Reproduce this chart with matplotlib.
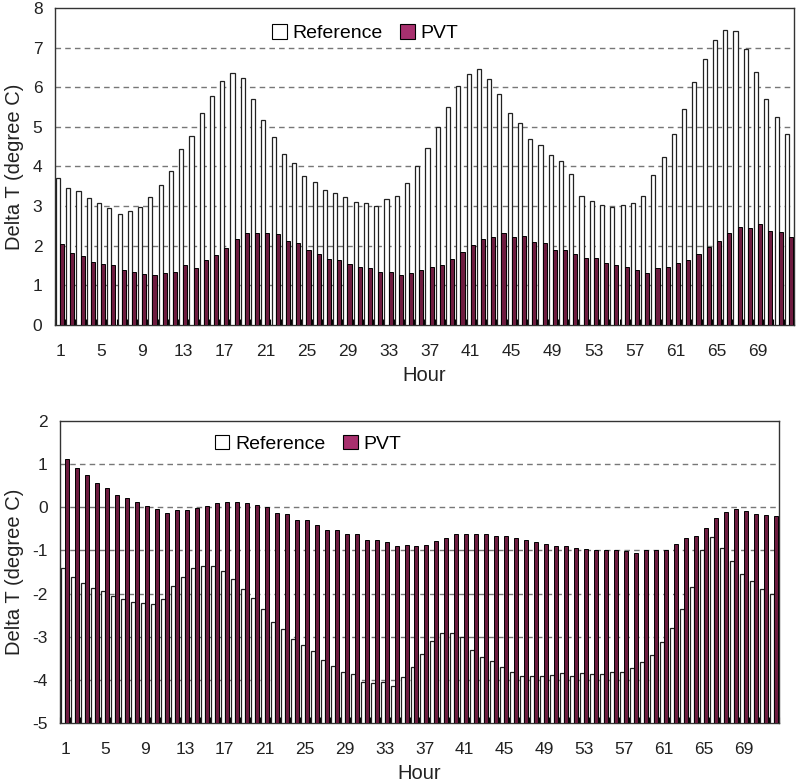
import numpy as np
import matplotlib
matplotlib.use("Agg")
import matplotlib.pyplot as plt
from matplotlib.patches import Patch

plt.rcParams['font.family'] = ['Liberation Sans', 'DejaVu Sans']

hours = np.arange(1, 73)

top_reference = [3.72, 3.45, 3.37, 3.20, 3.08, 2.94, 2.81, 2.88, 2.99, 3.24, 3.53, 3.88,
                 4.44, 4.77, 5.35, 5.79, 6.17, 6.37, 6.24, 5.71, 5.17, 4.74, 4.31, 4.09,
                 3.75, 3.62, 3.40, 3.33, 3.24, 3.10, 3.07, 3.00, 3.17, 3.25, 3.59, 4.02,
                 4.47, 5.00, 5.51, 6.03, 6.33, 6.46, 6.20, 5.83, 5.35, 5.09, 4.70, 4.53,
                 4.28, 4.14, 3.82, 3.25, 3.13, 3.04, 2.97, 3.03, 3.09, 3.25, 3.79, 4.25,
                 4.83, 5.45, 6.13, 6.71, 7.18, 7.45, 7.41, 6.97, 6.39, 5.70, 5.25, 4.83]
top_pvt = [2.04, 1.81, 1.74, 1.60, 1.54, 1.51, 1.39, 1.34, 1.28, 1.26, 1.30, 1.34,
           1.51, 1.44, 1.63, 1.76, 1.94, 2.17, 2.32, 2.32, 2.32, 2.29, 2.13, 2.06,
           1.90, 1.79, 1.67, 1.63, 1.54, 1.47, 1.44, 1.34, 1.34, 1.26, 1.31, 1.38,
           1.47, 1.51, 1.67, 1.83, 2.02, 2.17, 2.22, 2.32, 2.22, 2.25, 2.09, 2.06,
           1.89, 1.89, 1.79, 1.70, 1.70, 1.57, 1.51, 1.47, 1.38, 1.31, 1.44, 1.47,
           1.57, 1.63, 1.79, 1.97, 2.13, 2.32, 2.48, 2.44, 2.54, 2.38, 2.35, 2.22]

bottom_reference = [-1.41, -1.62, -1.76, -1.86, -1.95, -2.05, -2.13, -2.19, -2.22, -2.24, -2.13, -1.82,
                    -1.62, -1.41, -1.35, -1.35, -1.47, -1.66, -1.89, -2.10, -2.35, -2.65, -2.82, -3.05,
                    -3.19, -3.33, -3.54, -3.67, -3.81, -3.87, -4.06, -4.08, -4.06, -4.15, -3.93, -3.70,
                    -3.40, -3.09, -2.92, -2.92, -3.00, -3.30, -3.46, -3.57, -3.70, -3.81, -3.92, -3.90,
                    -3.90, -3.88, -3.84, -3.90, -3.84, -3.87, -3.87, -3.81, -3.81, -3.72, -3.58, -3.43,
                    -3.12, -2.80, -2.35, -1.85, -1.00, -0.68, -0.94, -1.24, -1.55, -1.72, -1.90, -2.00]
bottom_pvt = [1.11, 0.90, 0.74, 0.56, 0.44, 0.29, 0.21, 0.12, 0.02, -0.03, -0.13, -0.06,
              -0.06, -0.01, 0.02, 0.09, 0.12, 0.12, 0.09, 0.05, 0.00, -0.13, -0.15, -0.29,
              -0.29, -0.40, -0.52, -0.52, -0.63, -0.63, -0.75, -0.75, -0.81, -0.90, -0.87, -0.90,
              -0.87, -0.79, -0.71, -0.63, -0.61, -0.63, -0.61, -0.66, -0.66, -0.71, -0.75, -0.81,
              -0.85, -0.90, -0.90, -0.94, -0.97, -0.99, -0.99, -0.99, -1.01, -1.05, -0.99, -0.99,
              -0.98, -0.84, -0.71, -0.66, -0.48, -0.25, -0.12, -0.05, -0.09, -0.15, -0.17, -0.21]

tick_hours = list(range(1, 73, 4))
series_names = ["Reference", "PVT"]

ref_face = "white"
pvt_face = "#6e1c40"
legend_pvt = "#a8306e"

fig = plt.figure(figsize=(7.96, 7.84), dpi=100)
ax1 = fig.add_axes([0.069, 0.5855, 0.9285, 0.4043])
ax2 = fig.add_axes([0.0754, 0.0778, 0.9032, 0.3852])

w = 0.4


def draw(ax, ref, pvt, base, ylim, yticks, legend_anchor):
    ref = np.asarray(ref)
    pvt = np.asarray(pvt)
    ax.bar(hours - 0.2, ref - base, bottom=base, width=w, color=ref_face,
           edgecolor="#222222", linewidth=0.9, zorder=3)
    ax.bar(hours + 0.2, pvt - base, bottom=base, width=w, color=pvt_face,
           edgecolor="black", linewidth=0.7, zorder=3)
    ax.set_xlim(0.5, 72.5)
    ax.set_ylim(*ylim)
    ax.set_yticks(yticks)
    ax.set_yticklabels([str(t) for t in yticks])
    for t in yticks[1:-1]:
        ax.axhline(t, color="#777777", linestyle=(0, (4, 3)), linewidth=1.0, zorder=1)
    ax.set_xticks(tick_hours)
    ax.set_xticklabels([str(h) for h in tick_hours])
    ax.set_xticks(np.arange(0.5, 73, 1), minor=True)
    ax.tick_params(axis="x", which="major", length=0, pad=14, labelsize=12.5, colors="#222222")
    ax.tick_params(axis="x", which="minor", length=4, direction="in", width=0.8)
    ax.tick_params(axis="y", length=0, pad=9, labelsize=12.5, colors="#222222")
    for s in ax.spines.values():
        s.set_linewidth(1.0)
        s.set_color("#333333")
    ax.set_ylabel("Delta T (degree C)", fontsize=14.5, labelpad=6, color="#222222")
    ax.set_xlabel("Hour", fontsize=14.5, labelpad=5, color="#222222")
    handles = [Patch(facecolor="white", edgecolor="black", linewidth=0.8),
               Patch(facecolor=legend_pvt, edgecolor="black", linewidth=0.8)]
    ax.legend(handles, series_names, loc="center", bbox_to_anchor=legend_anchor,
              ncol=2, frameon=False, fontsize=14, handlelength=0.75, handleheight=0.75,
              handletextpad=0.3, columnspacing=0.9, borderpad=0.2)


draw(ax1, top_reference, top_pvt, 0, (0, 8), list(range(0, 9)), (0.42, 0.92))
draw(ax2, bottom_reference, bottom_pvt, -5, (-5, 2), list(range(-5, 3)), (0.345, 0.925))

fig.savefig("out.png", dpi=100)
